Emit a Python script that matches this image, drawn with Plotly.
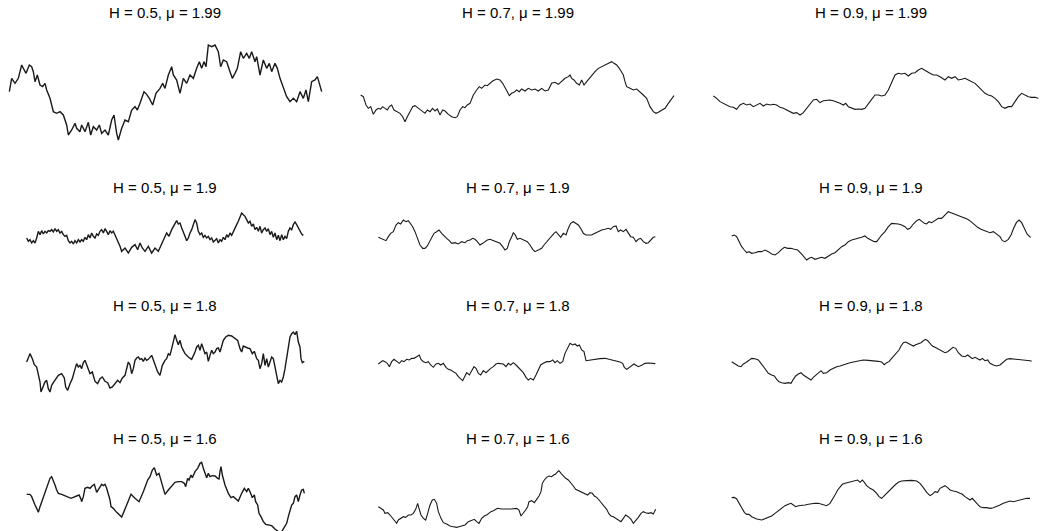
import plotly.graph_objects as go

W, H = 1045, 531

titles = [
    "H = 0.5, μ = 1.99", "H = 0.7, μ = 1.99", "H = 0.9, μ = 1.99",
    "H = 0.5, μ = 1.9", "H = 0.7, μ = 1.9", "H = 0.9, μ = 1.9",
    "H = 0.5, μ = 1.8", "H = 0.7, μ = 1.8", "H = 0.9, μ = 1.8",
    "H = 0.5, μ = 1.6", "H = 0.7, μ = 1.6", "H = 0.9, μ = 1.6",
]

# Sample paths: time index t and depth d (value = -d)
t1 = [28,35,45,55,65,72,78,88,95,100,105,112,120,128,135,140,150,160,170,180,190,200,205,215,225,230,240,245,255,265,272,280,290,298,305,315,325,335,342,350,355,365,375,385,395,405,412,420,432,440,448,458,468,480,488,495,505,515,520,530,540,550,560,570,580,590,598,605,612,618,625,635,645,655,662,670,680,690,697,705,712,722,730,740,748,755,765,770,780,790,800,808,815,825,832,840,850,860,870,880,890,900,910,918,925,935,945,952,958,965]
d1 = [170,130,145,130,90,105,115,90,95,110,140,120,150,155,145,165,190,230,235,230,240,270,300,285,265,280,290,270,290,262,300,275,285,270,295,285,300,255,240,295,315,280,255,260,225,215,225,205,170,178,190,210,175,160,145,160,120,95,120,135,175,130,145,120,130,100,80,100,80,95,30,35,30,50,95,75,80,110,130,115,100,50,70,55,70,50,80,65,120,75,100,85,110,85,100,130,160,185,200,190,200,170,190,165,200,140,135,125,145,170]

t2 = [32,40,48,55,62,70,78,85,92,98,105,112,118,125,132,140,150,158,165,172,180,188,195,205,215,225,232,240,248,255,262,270,278,285,295,305,315,322,330,338,345,352,360,370,380,388,395,405,412,420,428,440,450,458,465,472,478,485,492,500,508,515,525,535,545,555,565,575,585,595,605,615,625,635,645,655,660,665,672,680,688,695,702,710,718,725,735,745,755,765,775,785,792,800,808,815,820,825,830,840,850,860,870,880,890,900,910,918,925,935,945,955,965,972]
d2 = [60,65,90,100,95,118,105,100,102,95,100,105,95,90,105,110,115,125,140,125,110,95,92,100,108,115,105,110,100,108,102,120,105,108,118,125,128,125,105,95,98,90,85,60,45,35,40,30,32,25,18,12,15,25,40,50,62,55,52,45,50,42,48,40,45,42,48,40,48,45,25,22,28,20,10,5,0,10,15,25,30,15,30,20,10,0,-10,-20,-25,-30,-35,-40,-35,-30,-20,-10,0,20,35,40,45,42,50,60,70,95,110,115,112,105,100,85,70,62]

t3 = [25,35,45,55,65,75,85,95,105,115,125,135,145,155,165,175,185,195,205,215,225,235,245,255,265,275,285,295,305,315,325,335,345,355,365,375,385,395,405,415,422,430,440,450,460,470,480,490,500,510,520,530,540,550,560,570,580,590,600,610,620,630,640,650,658,665,675,685,695,705,712,720,730,740,750,760,770,780,790,800,810,820,830,840,850,860,870,880,890,900,910,920,930,940,950,960,970,980,990,1000]
d3 = [108,115,125,130,135,140,142,148,135,130,135,132,140,135,130,138,132,135,133,135,142,145,150,155,160,158,165,158,145,130,120,118,128,122,120,120,122,125,130,135,130,140,145,148,147,148,145,130,118,105,105,108,105,90,65,45,40,42,40,48,40,38,30,25,30,35,40,45,45,50,55,60,50,55,50,60,58,55,60,65,70,80,90,100,105,108,115,125,140,145,140,140,125,110,100,105,110,112,112,115]

t4 = [35,40,45,50,55,60,65,70,75,80,85,90,95,100,105,110,115,120,125,130,135,140,145,150,155,160,165,170,175,180,185,190,195,200,205,210,215,220,225,230,235,240,245,250,255,260,265,270,275,280,285,290,295,300,305,310,315,320,330,340,350,360,368,375,382,390,400,410,420,430,440,448,455,462,470,478,485,490,495,500,505,510,515,520,525,530,535,540,545,550,555,560,565,570,575,580,585,590,595,600,605,610,615,620,625,630,635,640,645,650,655,660,665,670,675,680,685,690,695,700,705,710,715,720,725,730,735,740,745,750,755,760,765,770,775,780,785,790,795,800,805,810,815,820,825,830,835,840,845,850,855,860,865]
d4 = [120,130,125,135,128,135,120,100,110,98,108,100,105,98,100,95,102,92,100,95,105,100,110,115,112,128,135,130,138,128,135,125,132,125,130,118,125,110,120,105,115,120,108,112,100,95,105,92,100,110,98,105,100,110,120,130,145,160,150,165,148,140,155,135,150,160,145,165,150,160,140,120,105,115,95,80,68,78,75,90,100,115,128,120,105,95,80,65,75,100,110,105,118,112,120,115,125,120,132,128,122,135,125,130,118,125,110,118,105,112,100,90,80,70,60,45,50,55,65,75,70,85,78,95,88,100,85,105,95,90,100,92,110,100,118,105,125,112,128,110,125,115,122,100,90,95,80,72,80,90,100,108,112]

t5 = [25,32,40,48,55,62,70,78,85,92,100,108,115,122,128,135,142,150,158,165,172,178,185,192,200,207,215,222,230,238,245,255,265,275,285,292,300,308,315,322,330,338,345,352,360,370,380,390,398,405,412,418,425,430,436,442,450,458,465,472,480,488,495,505,515,522,530,538,545,552,558,565,572,580,588,595,602,610,618,625,632,640,648,655,665,675,685,695,705,715,722,730,738,745,752,760,768,775,782,790,798,805,812,820,828,835,842,850,856]
d5 = [112,115,118,122,110,100,95,75,68,72,60,65,62,70,80,95,115,135,145,145,138,125,110,100,95,90,100,108,115,122,130,128,132,125,128,122,120,115,118,125,135,130,125,120,118,122,125,130,140,150,145,125,110,98,105,118,115,118,120,125,135,148,155,150,145,135,125,115,108,100,95,105,112,100,105,85,70,65,70,75,85,100,105,105,105,100,95,90,88,85,88,80,78,95,90,95,88,100,110,112,125,118,115,125,130,128,120,112,110]

t6 = [20,28,35,42,50,58,65,72,80,90,100,110,120,130,140,150,160,170,178,188,198,208,218,228,238,245,252,260,270,280,290,300,310,320,330,340,350,360,370,380,390,400,410,420,428,438,448,455,462,470,480,490,500,510,520,530,540,548,555,565,575,583,590,598,605,612,620,630,640,650,660,670,678,688,698,708,718,728,738,748,758,768,778,788,795,805,815,825,832,840,850,858,866,874,882,890,898,906,914,918]
d6 = [108,105,110,125,140,150,158,155,160,158,155,155,150,155,162,165,158,148,142,145,145,148,150,160,170,180,175,172,178,175,172,175,168,162,158,150,140,135,125,120,118,115,112,108,115,120,125,125,115,105,95,80,70,70,72,75,80,88,85,72,62,58,65,70,72,65,68,62,55,55,45,35,38,42,48,52,55,58,65,75,82,88,92,95,98,95,102,110,122,125,118,105,85,68,60,68,85,102,110,112]

t7 = [35,45,52,58,65,70,75,78,85,90,95,100,105,110,115,122,130,140,148,152,158,165,172,178,185,190,195,200,205,210,215,220,225,232,240,248,255,262,270,278,285,292,300,308,315,322,330,335,340,345,350,355,360,365,370,375,380,385,390,395,400,410,420,428,435,442,450,455,460,465,470,475,480,485,490,495,500,505,510,520,530,540,545,550,555,560,565,570,575,580,585,590,595,600,605,610,615,620,625,632,640,650,660,668,675,680,685,690,698,705,712,718,725,730,735,740,745,750,755,760,765,770,775,780,785,790,795,800,805,810,815,820,825,830,835,840,845,850,855,858,862,868]
d7 = [120,95,110,128,135,155,180,210,195,180,175,200,210,190,182,170,160,155,168,195,205,185,170,148,125,135,130,140,122,115,130,140,155,150,178,185,170,165,178,182,198,195,185,175,182,168,160,140,120,128,155,140,115,108,105,112,110,118,108,115,112,100,130,150,160,130,115,110,95,100,80,60,38,55,68,55,75,85,95,105,112,90,75,70,85,65,80,95,90,118,100,85,95,90,80,78,90,70,55,45,40,42,50,55,80,90,72,75,78,80,95,88,110,115,140,125,95,130,110,135,120,105,110,140,160,185,175,180,165,140,110,80,45,35,30,38,28,60,75,110,122,118]

t8 = [25,32,38,45,52,58,65,72,80,88,95,102,110,118,125,132,140,148,153,160,168,175,182,190,198,205,212,220,228,235,242,250,258,265,272,278,285,290,298,305,312,318,325,332,340,348,355,362,370,378,385,392,400,408,415,422,430,438,445,452,460,468,475,482,490,498,505,512,520,530,540,548,555,562,570,578,585,592,600,608,615,622,628,635,642,648,660,675,690,705,720,735,750,758,763,770,778,785,792,798,805,815,825,835,845,856]
d8 = [102,95,92,95,100,110,95,88,95,100,92,95,88,90,85,85,80,75,88,95,98,95,105,112,102,100,105,100,112,118,120,125,130,140,148,152,138,128,135,120,110,115,130,135,122,128,120,115,110,102,100,102,102,110,100,105,98,105,112,118,128,142,150,145,150,135,120,105,100,95,95,90,98,92,100,95,70,55,40,45,42,48,45,60,65,92,90,88,86,85,88,92,96,100,112,118,112,106,102,106,110,106,100,99,100,101]

t9 = [20,30,40,48,55,62,70,80,90,100,108,115,122,130,140,148,155,162,170,180,190,198,205,212,220,228,235,242,250,258,265,272,280,288,295,305,315,325,335,345,355,370,385,400,415,430,445,460,470,478,485,492,500,508,515,522,528,535,542,550,558,565,572,580,588,595,602,608,615,622,630,640,650,660,668,676,684,692,700,710,720,728,735,742,750,758,765,772,780,788,795,805,815,825,835,845,855,865,875,885,895,905,915,920]
d9 = [95,102,108,110,102,98,92,85,86,90,100,110,122,130,135,138,148,155,158,160,158,160,148,138,132,128,135,140,145,150,142,135,128,122,130,128,120,115,110,108,104,100,96,92,90,91,92,94,96,104,98,95,85,75,68,60,48,38,36,40,42,48,44,42,38,32,28,32,40,48,52,58,62,68,65,58,52,55,68,78,80,75,82,86,82,85,90,85,92,90,100,105,108,105,96,88,86,87,88,88,90,90,92,94]

t10 = [35,45,50,55,60,65,70,75,80,85,90,95,100,105,110,115,120,125,130,140,150,160,168,175,185,192,197,200,205,210,218,225,232,238,245,250,255,260,265,270,275,280,285,288,295,305,320,335,348,360,372,385,398,405,412,418,425,432,440,450,460,470,480,490,500,508,512,518,522,528,532,540,548,555,560,565,570,575,580,585,592,600,608,612,615,618,622,630,640,648,655,662,670,680,688,695,700,705,712,718,722,728,732,738,745,752,760,770,780,790,797,800,808,815,820,825,830,835,840,845,850,855,860,865,868]
d10 = [118,118,125,140,150,160,172,155,140,130,110,95,80,70,65,75,90,105,115,118,122,127,130,127,122,120,130,140,125,100,97,100,92,88,112,105,98,88,92,88,100,115,135,155,160,172,186,150,118,130,140,110,75,65,45,38,60,55,85,118,105,92,82,80,80,85,95,70,75,60,68,50,40,25,22,40,55,68,55,65,62,63,70,72,50,35,60,90,115,128,125,130,138,115,100,110,100,110,128,120,140,150,175,185,200,208,210,212,222,230,235,230,215,205,185,165,150,145,125,120,140,120,105,103,115]

t11 = [70,78,85,90,98,105,112,120,125,130,138,145,152,160,168,175,182,188,192,198,205,212,218,225,232,238,245,250,258,265,275,285,295,305,312,320,330,340,350,358,365,372,380,388,395,400,408,415,422,428,440,455,470,485,492,498,505,512,518,522,530,538,545,552,558,562,568,575,582,590,596,602,608,612,618,625,632,640,648,655,662,670,680,690,698,705,712,718,725,732,740,748,755,762,768,775,782,790,798,805,812,820,828,835,842,850,858,865,872,880,888,895,902]
d11 = [140,145,150,160,158,165,175,185,190,180,175,170,172,165,165,160,148,130,145,165,175,180,160,135,120,118,130,155,175,188,192,198,200,202,200,198,195,185,180,178,185,190,175,168,165,160,155,152,148,145,147,148,147,145,150,168,160,150,140,125,122,128,118,108,95,70,60,52,48,50,45,42,35,32,40,48,55,60,68,78,88,92,96,100,105,98,100,108,112,120,130,140,148,162,168,170,175,180,185,175,165,170,178,190,182,172,160,155,158,160,158,162,148]

t12 = [20,28,35,42,50,58,65,72,80,95,110,125,140,150,160,170,180,190,198,205,212,220,230,240,250,260,270,280,290,298,305,315,322,330,338,345,352,360,370,380,390,398,405,412,418,425,435,445,455,462,470,478,488,498,510,520,530,545,560,575,585,595,605,615,622,630,638,645,652,660,668,675,685,695,705,712,720,728,735,742,750,758,765,775,785,795,805,815,825,835,845,855,865,875,885,895,905,915]
d12 = [128,127,132,145,160,172,178,178,185,192,195,190,183,175,168,160,152,148,145,150,155,152,152,150,148,146,145,145,148,152,152,145,135,120,105,95,88,85,82,80,78,75,82,75,82,92,100,105,115,125,130,122,112,100,90,82,78,77,76,78,85,98,112,122,118,110,112,100,95,92,98,105,108,110,115,118,125,130,135,130,140,148,155,158,158,160,158,155,150,145,142,138,140,137,135,132,130,130]

paths = [(t1, d1), (t2, d2), (t3, d3), (t4, d4), (t5, d5), (t6, d6),
         (t7, d7), (t8, d8), (t9, d9), (t10, d10), (t11, d11), (t12, d12)]

# Panel frames in pixels: left, top, width, height (reading frame, 3x scale)
frames = [(0, 35, 335, 110), (350, 75, 335, 50), (705, 60, 335, 60),
          (15, 198, 300, 48), (370, 200, 300, 45), (725, 200, 310, 65),
          (15, 322, 300, 80), (370, 330, 300, 55), (725, 330, 310, 60),
          (15, 455, 300, 76), (355, 460, 320, 71), (725, 455, 310, 60)]

title_pos = [(165, 12), (518, 12), (871, 12),
             (165, 188), (518, 188), (871, 188),
             (165, 305), (518, 305), (871, 305),
             (165, 438), (518, 438), (871, 438)]

fig = go.Figure()
layout_axes = {}
for i, ((t, d), (x0, y0, w, h)) in enumerate(zip(paths, frames)):
    k = i + 1
    sx = "" if k == 1 else str(k)
    hurst = titles[i].split(",")[0]
    lw = 1.4 if "0.5" in hurst else 1.1
    fig.add_trace(go.Scatter(x=t, y=[-v for v in d], mode="lines",
                             line=dict(color="#1a1a1a", width=lw),
                             xaxis="x" + sx, yaxis="y" + sx,
                             hoverinfo="skip", showlegend=False))
    top = max(0, y0 - 30)
    bot = min(H, y0 + h + 30)
    layout_axes["xaxis" + sx] = dict(domain=[x0 / W, (x0 + w) / W], range=[0, 3 * w],
                                     visible=False, anchor="y" + sx, fixedrange=True)
    layout_axes["yaxis" + sx] = dict(domain=[1 - bot / H, 1 - top / H],
                                     range=[-(bot - y0) * 3, -(top - y0) * 3],
                                     visible=False, anchor="x" + sx, fixedrange=True)

annotations = []
for txt, (cx, cy) in zip(titles, title_pos):
    annotations.append(dict(text=txt, x=cx / W, y=1 - cy / H, xref="paper", yref="paper",
                            xanchor="center", yanchor="middle", showarrow=False,
                            font=dict(family="Liberation Sans, Arial, sans-serif",
                                      size=15, color="#000000")))

fig.update_layout(width=W, height=H, margin=dict(l=0, r=0, t=0, b=0),
                  paper_bgcolor="white", plot_bgcolor="white",
                  annotations=annotations, **layout_axes)

fig.write_html("out.html", config={"displayModeBar": False},
               post_script="document.body.style.margin='0';document.body.style.overflow='hidden';")
